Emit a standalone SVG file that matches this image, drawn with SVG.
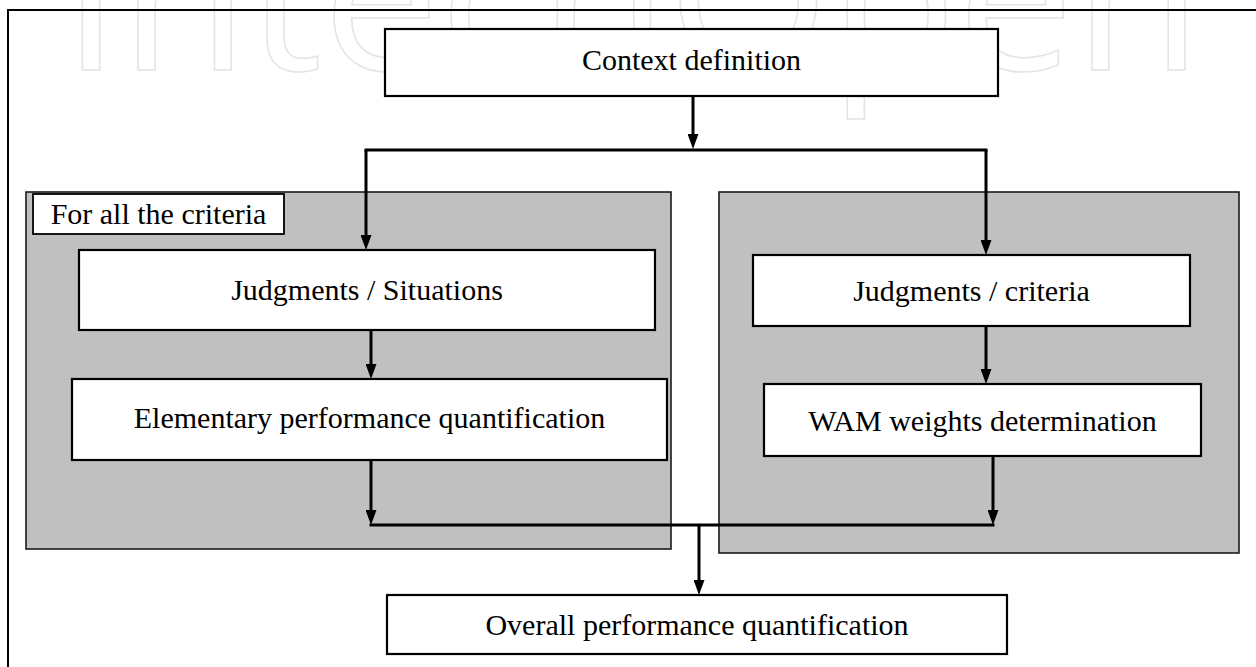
<svg xmlns="http://www.w3.org/2000/svg" width="1256" height="667" viewBox="0 0 1256 667">
  <defs>
    <marker id="arrow" viewBox="0 0 15 11" refX="7" refY="5.5" markerWidth="15" markerHeight="11" orient="auto" markerUnits="userSpaceOnUse">
      <path d="M0,0 L15,5.5 L0,11 z" fill="#000"/>
    </marker>
  </defs>
  <style>
    .box { fill: #fff; stroke: #000; stroke-width: 2.2; }
    .panel { fill: #c0c0c0; stroke: #1a1a1a; stroke-width: 1.6; }
    .label { font-size: 30px; fill: #000; text-anchor: middle; }
    .wire { fill: none; stroke: #000; stroke-width: 3; }
    .frame { fill: none; stroke: #000; stroke-width: 2; }
    .mark { font-size: 205px; fill: none; stroke: #e4e4e4; stroke-width: 1.5; }
  </style>

  <rect width="1256" height="667" fill="#fff"/>

  <!-- publisher mark in outline letters behind the chart -->
  <text class="mark" font-family="'Open Sans', 'DejaVu Sans', sans-serif" x="62" y="70" textLength="1140" lengthAdjust="spacingAndGlyphs">IntechOpen</text>

  <!-- page frame: top and left rules -->
  <path class="frame" d="M1256,10 H8 V667"/>

  <g font-family="'Liberation Serif', 'Times New Roman', serif">
    <!-- grey panels -->
    <g id="panel-situations">
      <rect class="panel" x="26" y="192" width="645" height="357"/>
      <g id="tag-all-criteria">
        <rect class="box" x="33" y="194" width="251" height="40" style="stroke-width:1.8"/>
        <text class="label" x="158.5" y="224">For all the criteria</text>
      </g>
    </g>
    <g id="panel-criteria">
      <rect class="panel" x="719" y="192" width="520" height="361"/>
    </g>

    <!-- process boxes -->
    <g id="context-definition">
      <rect class="box" x="385" y="29" width="613" height="67"/>
      <text class="label" x="691.5" y="70">Context definition</text>
    </g>
    <g id="judgments-situations">
      <rect class="box" x="79" y="250" width="576" height="80"/>
      <text class="label" x="367" y="300">Judgments / Situations</text>
    </g>
    <g id="elementary-performance">
      <rect class="box" x="72" y="379" width="595" height="81"/>
      <text class="label" x="369.5" y="428">Elementary performance quantification</text>
    </g>
    <g id="judgments-criteria">
      <rect class="box" x="753" y="255" width="437" height="71"/>
      <text class="label" x="971.5" y="301">Judgments / criteria</text>
    </g>
    <g id="wam-weights">
      <rect class="box" x="764" y="384" width="437" height="72"/>
      <text class="label" x="982.5" y="431">WAM weights determination</text>
    </g>
    <g id="overall-performance">
      <rect class="box" x="387" y="595" width="620" height="59"/>
      <text class="label" x="697" y="635">Overall performance quantification</text>
    </g>
  </g>

  <!-- connectors -->
  <g id="connectors">
    <path class="wire" d="M693,96 V141" marker-end="url(#arrow)"/>
    <path class="wire" d="M366,150 H986" style="stroke-linecap:square"/>
    <path class="wire" d="M366,150 V242" marker-end="url(#arrow)"/>
    <path class="wire" d="M986,150 V247" marker-end="url(#arrow)"/>
    <path class="wire" d="M371,330 V371" marker-end="url(#arrow)"/>
    <path class="wire" d="M986,326 V376" marker-end="url(#arrow)"/>
    <path class="wire" d="M371,460 V517" marker-end="url(#arrow)"/>
    <path class="wire" d="M993,456 V517" marker-end="url(#arrow)"/>
    <path class="wire" d="M371,525 H993" style="stroke-linecap:square"/>
    <path class="wire" d="M699,525 V587" marker-end="url(#arrow)"/>
  </g>
</svg>
